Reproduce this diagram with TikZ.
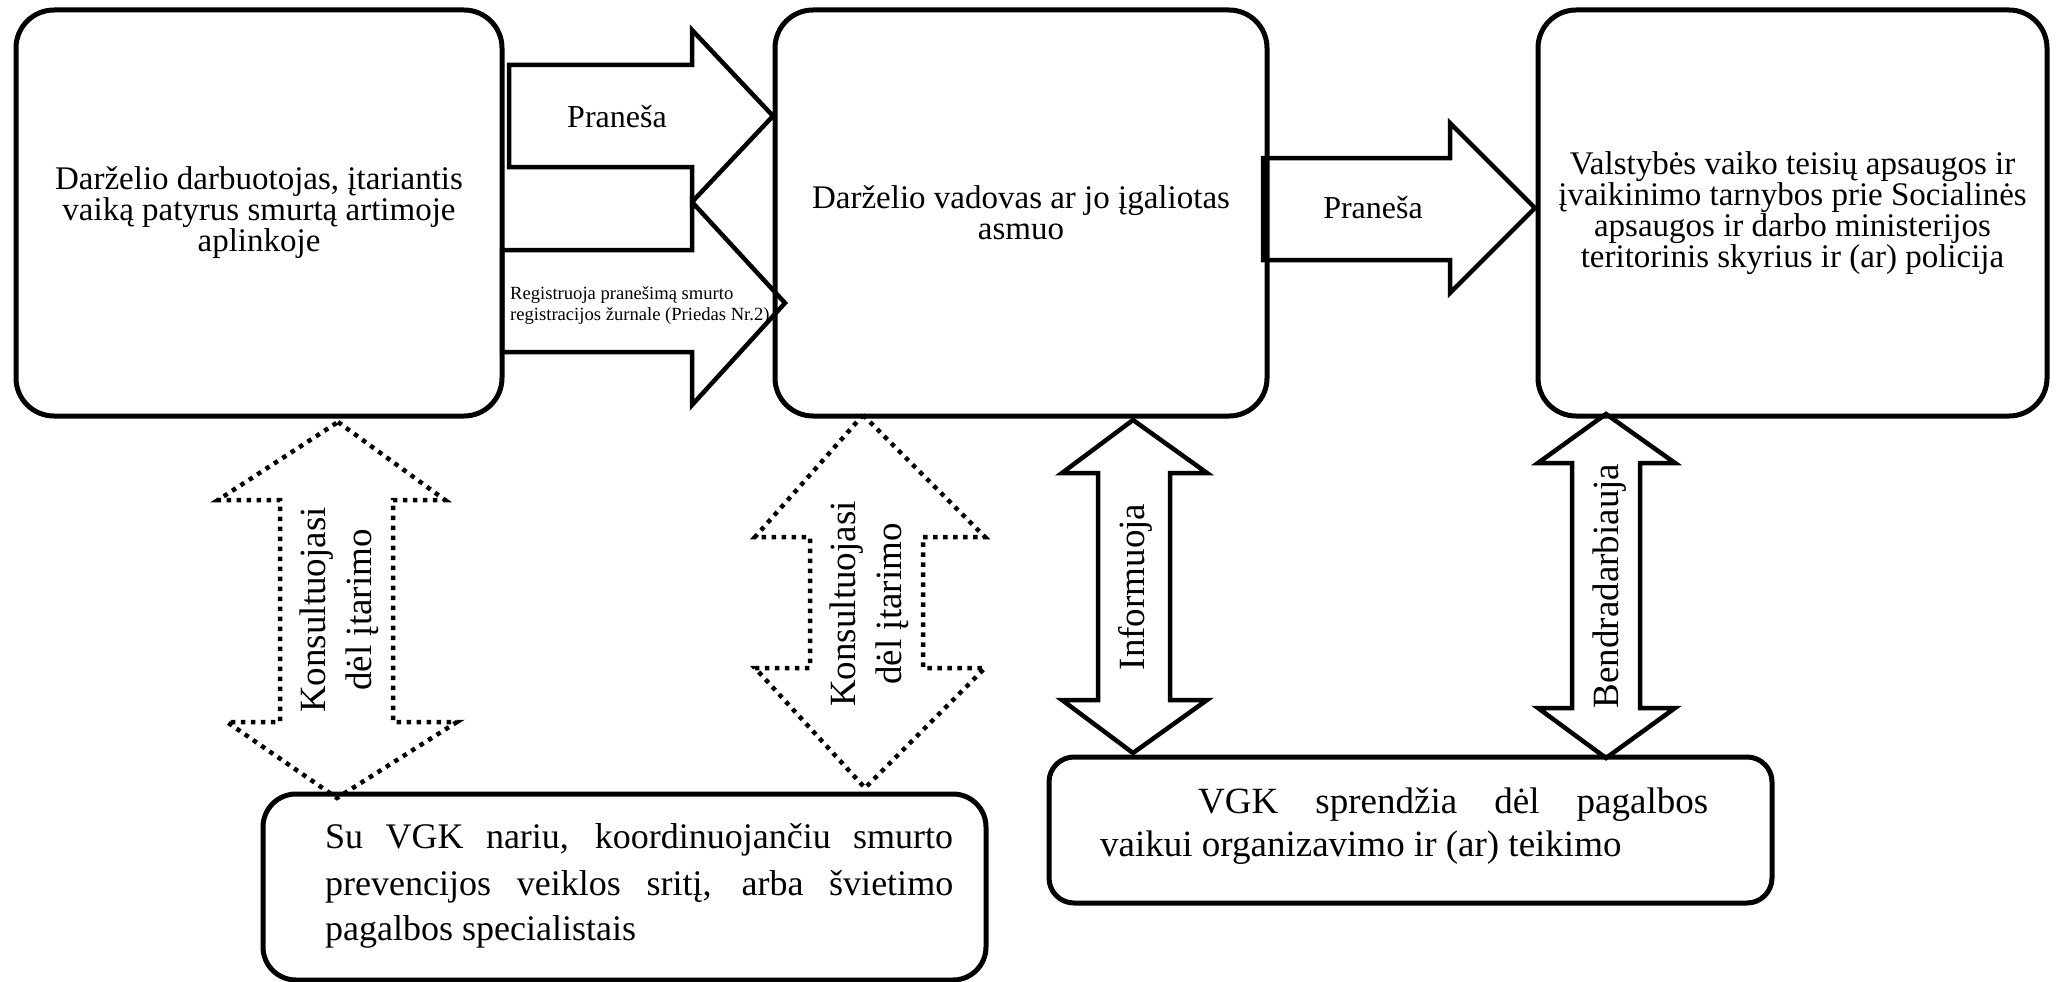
\documentclass[tikz,border=0pt]{standalone}
\usepackage{fontspec}
\setmainfont{Liberation Serif}
\begin{document}
\begin{tikzpicture}[x=1pt,y=-1pt,
  box/.style={draw,line width=5pt,rounded corners=38pt,inner sep=0pt,align=center,font=\fontsize{33}{31}\selectfont},
  blockarrow/.style={draw,line width=4.5pt},
  dotarrow/.style={draw,line width=4.5pt,dash pattern=on 4.5pt off 5.5pt},
  lbl/.style={inner sep=0pt,font=\fontsize{32}{32}\selectfont},
  small/.style={inner sep=0pt,font=\fontsize{18.6}{21}\selectfont},
  txt/.style={inner sep=0pt,anchor=base west,font=\fontsize{37}{37}\selectfont},
  txtd/.style={txt,font=\fontsize{36}{36}\selectfont},
  vlbl/.style={inner sep=0pt,rotate=90,align=center,font=\fontsize{37}{46}\selectfont}]
\useasboundingbox (0,0) rectangle (2056,982);
\fill[white] (0,0) rectangle (2056,982);

% boxes
\node[box,minimum width=486pt,minimum height=406pt] (A) at (259,213)
  {Darželio darbuotojas, įtariantis\\ vaiką patyrus smurtą artimoje\\ aplinkoje};
\node[box,minimum width=492pt,minimum height=406pt] (B) at (1021,213)
  {Darželio vadovas ar jo įgaliotas\\ asmuo};
\node[box,minimum width=509pt,minimum height=406pt] (C) at (1792.5,213)
  {Valstybės vaiko teisių apsaugos ir\\ įvaikinimo tarnybos prie Socialinės\\ apsaugos ir darbo ministerijos\\ teritorinis skyrius ir (ar) policija};
\node[box,rounded corners=33pt,minimum width=723pt,minimum height=186pt] (D) at (624.5,887) {};
\node[box,rounded corners=25pt,minimum width=723pt,minimum height=146pt] (E) at (1410.5,830) {};

% box D text
\node[txtd] (d1) at (325,848) {\makebox[628pt][s]{Su VGK nariu, koordinuojančiu smurto}};
\node[txtd] (d2) at (325,895) {\makebox[628pt][s]{prevencijos veiklos sritį, arba švietimo}};
\node[txtd] (d3) at (325,940) {pagalbos specialistais};
% box E text
\node[txt] (e1) at (1198,813) {\makebox[510pt][s]{VGK sprendžia dėl pagalbos}};
\node[txt] (e2) at (1100,856) {vaikui organizavimo ir (ar) teikimo};

% horizontal block arrows
\draw[blockarrow] (509,65) -- (692,65) -- (692,30) -- (773,116) -- (692,202) -- (692,167) -- (509,167) -- cycle;
\node[lbl,anchor=base] (p1) at (617,127) {Praneša};

\draw[blockarrow] (502,250) -- (692,250) -- (692,202) -- (785,303) -- (692,405) -- (692,352) -- (502,352) -- cycle;
\node[small,anchor=base west] (r1) at (510,299) {Registruoja pranešimą smurto};
\node[small,anchor=base west] (r2) at (510,320) {registracijos žurnale (Priedas Nr.2)};

\draw[blockarrow] (1263,158) -- (1450,158) -- (1450,123) -- (1535,208) -- (1450,293) -- (1450,260) -- (1263,260) -- cycle;
\node[lbl,anchor=base] (p2) at (1373,218) {Praneša};

% dotted double arrows
\draw[dotarrow] (338,422) -- (445,500) -- (393,500) -- (393,722) -- (457,722) -- (337,798)
  -- (227,722) -- (280,722) -- (280,500) -- (218,500) -- cycle;
\node[vlbl] (k1) at (339.5,610) {Konsultuojasi\\ dėl įtarimo};

\draw[dotarrow] (863,415) -- (985,537) -- (923,537) -- (923,668) -- (985,668) -- (865,788)
  -- (755,668) -- (810,668) -- (810,537) -- (755,537) -- cycle;
\node[vlbl] (k2) at (869,604) {Konsultuojasi\\ dėl įtarimo};

% solid double arrows
\draw[blockarrow] (1133,420) -- (1207,473) -- (1170,473) -- (1170,700) -- (1207,700) -- (1133,753)
  -- (1062,700) -- (1098,700) -- (1098,473) -- (1062,473) -- cycle;
\node[vlbl] (inf) at (1135,587) {Informuoja};

\draw[blockarrow] (1606,414) -- (1675,463) -- (1640,463) -- (1640,708) -- (1675,708) -- (1606,758)
  -- (1538,708) -- (1572,708) -- (1572,463) -- (1538,463) -- cycle;
\node[vlbl] (ben) at (1610,586) {Bendradarbiauja};
\end{tikzpicture}
\end{document}
